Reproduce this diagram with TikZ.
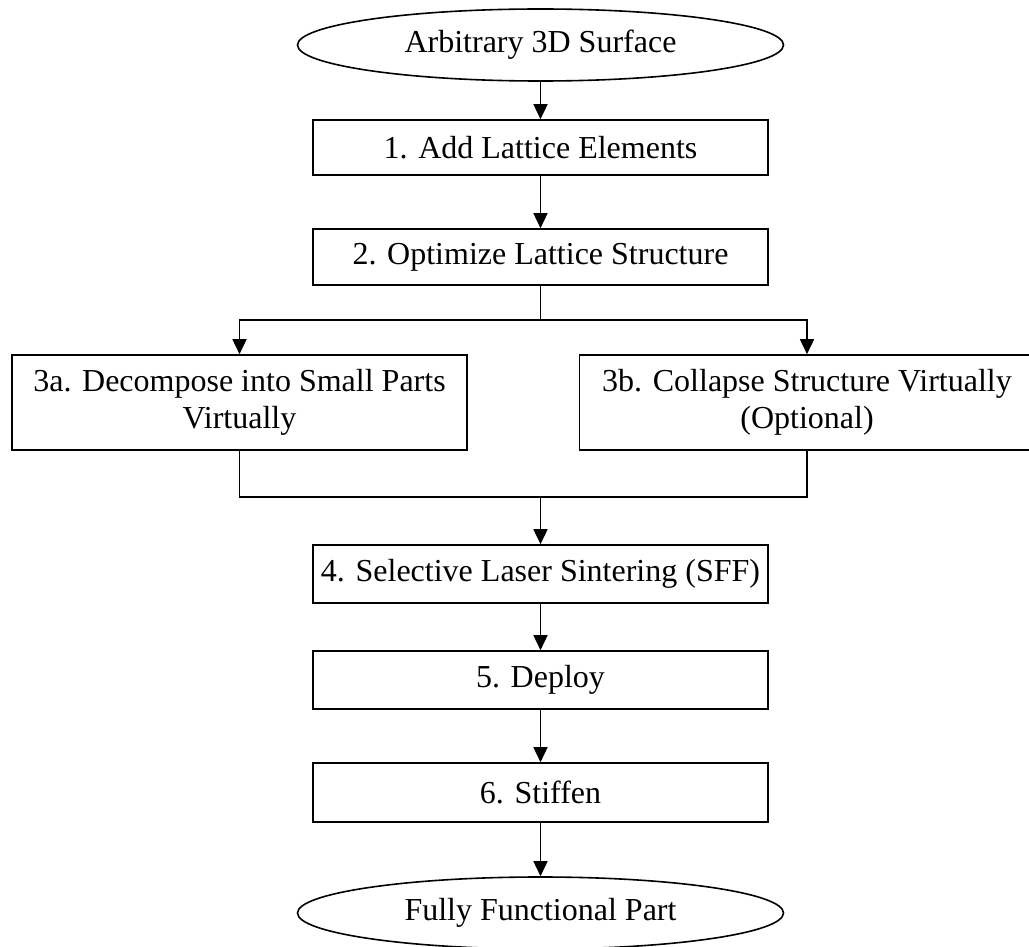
\documentclass[tikz,border=0pt]{standalone}
\usepackage{fontspec}
\setmainfont{Liberation Serif}
\usetikzlibrary{shapes.geometric,arrows.meta}
\begin{document}
\begin{tikzpicture}[x=1pt,y=1pt,
  every node/.style={font=\fontsize{32}{37}\selectfont},
  stepbox/.style={draw, line width=1.6pt, rectangle, minimum width=455pt, inner sep=0pt, align=center},
  term/.style={draw, line width=1.6pt, ellipse, minimum width=486pt, minimum height=72pt, inner sep=0pt},
  link/.style={line width=1.6pt},
  arr/.style={line width=1.6pt, -{Triangle[width=14pt,length=15pt]}}]
\useasboundingbox (0,0) rectangle (1029,-947);
\node[term] (top) at (540.5,-45) {Arbitrary 3D Surface};
\node[stepbox, minimum height=55pt] (b1) at (540.5,-147.5) {1. Add Lattice Elements};
\node[stepbox, minimum height=56pt] (b2) at (540.5,-257) {2. Optimize Lattice Structure};
\node[stepbox, minimum height=95pt] (b3a) at (239.5,-402.5) {3a. Decompose into Small Parts\\Virtually};
\node[stepbox, minimum height=95pt] (b3b) at (807,-402.5) {3b. Collapse Structure Virtually\\(Optional)};
\node[stepbox, minimum height=58pt] (b4) at (540.5,-574) {4. Selective Laser Sintering (SFF)};
\node[stepbox, minimum height=58pt] (b5) at (540.5,-680) {5. Deploy};
\node[stepbox, minimum height=59pt] (b6) at (540.5,-792.5) {6. Stiffen};
\node[term] (bot) at (540.5,-913) {Fully Functional Part};
\coordinate (split) at (540.5,-320);
\coordinate (merge) at (540.5,-497);
\draw[arr] (top) -- (b1);
\draw[arr] (b1) -- (b2);
\draw[link] (b2) -- (split);
\draw[arr] (split) -| (b3a);
\draw[arr] (split) -| (b3b);
\draw[link] (b3a) |- (merge);
\draw[link] (b3b) |- (merge);
\draw[arr] (merge) -- (b4);
\draw[arr] (b4) -- (b5);
\draw[arr] (b5) -- (b6);
\draw[arr] (b6) -- (bot);
\end{tikzpicture}
\end{document}
